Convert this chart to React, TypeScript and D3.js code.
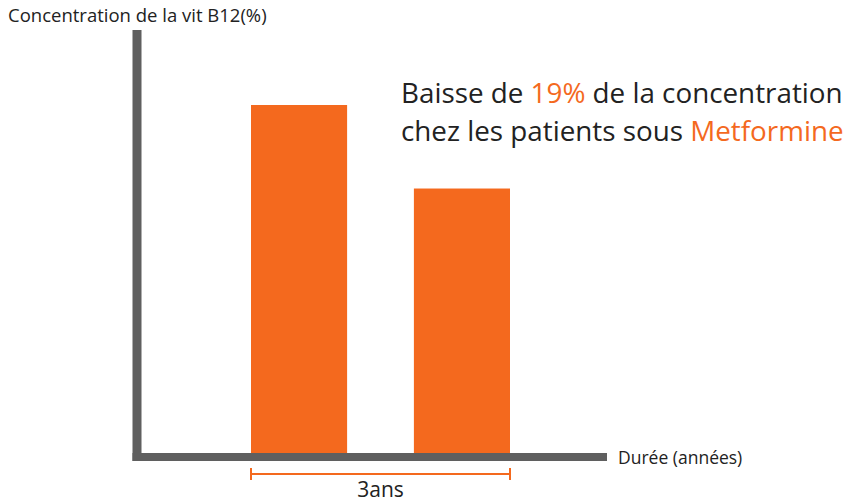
import React, { useRef, useEffect } from "react";
import { select, scaleLinear, scaleBand } from "d3";

// data
const periods = ["début", "après 3 ans"];
const concentrations = [100, 76];
const yLabel = "Concentration de la vit B12(%)";
const xLabel = "Durée (années)";
const spanLabel = "3ans";
const titleLine1 = [
  { t: "Baisse de ", hi: false },
  { t: "19%", hi: true },
  { t: " de la concentration", hi: false },
];
const titleLine2 = [
  { t: "chez les patients sous ", hi: false },
  { t: "Metformine", hi: true },
];

const ORANGE = "#f4691e";
const GREY = "#5f5f5f";
const FONT = "'Open Sans', 'Noto Sans', sans-serif";

function BarChart() {
  const svgRef = useRef<SVGSVGElement>(null);

  useEffect(() => {
    const svg = select(svgRef.current);
    svg.selectAll("*").remove();

    const x0 = 137;
    const y0 = 457;

    // scales
    const xScale = scaleBand<string>()
      .domain(periods)
      .range([251, 510])
      .paddingInner(0.41)
      .paddingOuter(0);
    const yScale = scaleLinear().domain([0, 125]).range([453, 18]);

    // bars
    svg
      .selectAll(".bar")
      .data(concentrations)
      .join("rect")
      .attr("class", "bar")
      .attr("x", (d, i) => xScale(periods[i]) as number)
      .attr("y", (d) => yScale(d))
      .attr("width", xScale.bandwidth())
      .attr("height", (d) => yScale(0) - yScale(d))
      .attr("fill", ORANGE);

    // axes (thick grey lines)
    svg
      .append("line")
      .attr("x1", x0)
      .attr("x2", x0)
      .attr("y1", 30)
      .attr("y2", y0 + 4)
      .attr("stroke", GREY)
      .attr("stroke-width", 9);
    svg
      .append("line")
      .attr("x1", x0 - 4.5)
      .attr("x2", 607)
      .attr("y1", y0)
      .attr("y2", y0)
      .attr("stroke", GREY)
      .attr("stroke-width", 8);

    svg
      .append("text")
      .attr("x", 8)
      .attr("y", 22)
      .attr("font-family", FONT)
      .attr("font-size", 18.5)
      .attr("fill", "#222")
      .text(yLabel);

    svg
      .append("text")
      .attr("x", 618)
      .attr("y", 464)
      .attr("font-family", FONT)
      .attr("font-size", 17.5)
      .attr("fill", "#222")
      .text(xLabel);

    // 3-year span bracket
    const bx1 = xScale(periods[0]) as number;
    const bx2 = (xScale(periods[1]) as number) + xScale.bandwidth();
    const by = 474;
    const bracket = svg.append("g").attr("stroke", ORANGE).attr("stroke-width", 2);
    bracket.append("line").attr("x1", bx1).attr("x2", bx2).attr("y1", by).attr("y2", by);
    bracket.append("line").attr("x1", bx1).attr("x2", bx1).attr("y1", by - 6).attr("y2", by + 6);
    bracket.append("line").attr("x1", bx2).attr("x2", bx2).attr("y1", by - 6).attr("y2", by + 6);

    svg
      .append("text")
      .attr("x", (bx1 + bx2) / 2)
      .attr("y", 497)
      .attr("text-anchor", "middle")
      .attr("font-family", FONT)
      .attr("font-size", 21)
      .attr("fill", "#222")
      .text(spanLabel);

    // annotation
    [titleLine1, titleLine2].forEach((line, i) => {
      const t = svg
        .append("text")
        .attr("x", 401)
        .attr("y", 103 + i * 38)
        .attr("font-family", FONT)
        .attr("font-size", 27.8)
        .attr("fill", "#222");
      t.selectAll("tspan")
        .data(line)
        .join("tspan")
        .attr("fill", (d) => (d.hi ? ORANGE : "#222"))
        .text((d) => d.t);
    });
  }, []);

  return <svg ref={svgRef} width={861} height={502} style={{ display: "block" }} />;
}

export default function App() {
  return (
    <div style={{ position: "absolute", left: 0, top: 0, background: "#fff" }}>
      <BarChart />
    </div>
  );
}
